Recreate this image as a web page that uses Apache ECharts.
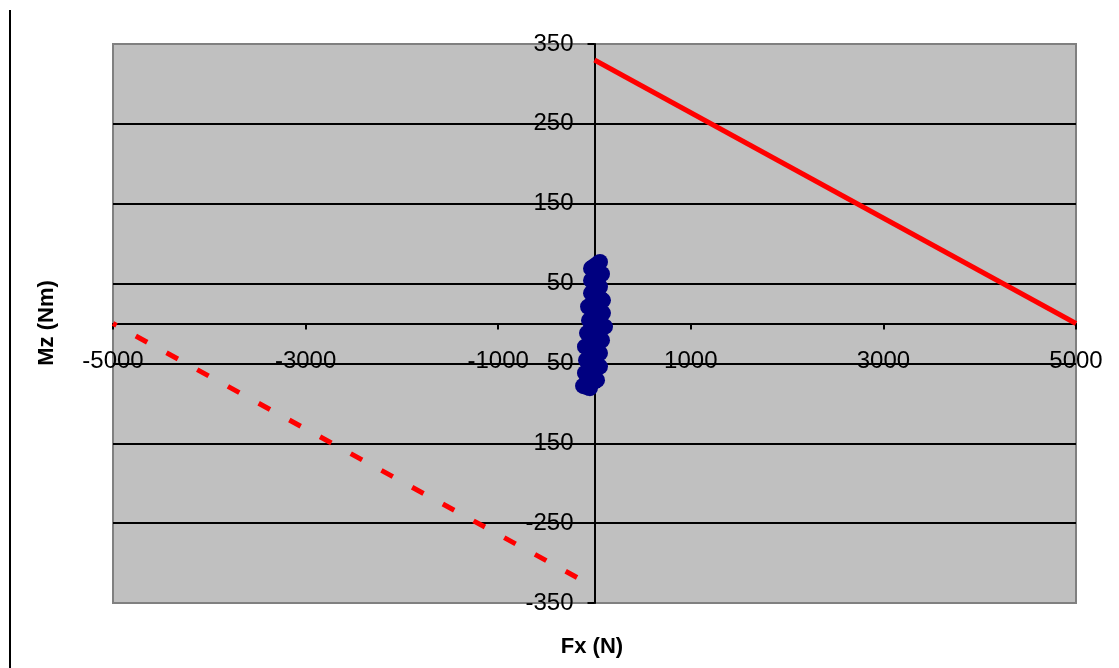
<!DOCTYPE html>
<html>
<head>
<meta charset="utf-8">
<script src="https://cdn.jsdelivr.net/npm/echarts@6/dist/echarts.min.js"></script>
<style>
html,body{margin:0;padding:0;background:#fff;}
#chart{width:1119px;height:668px;}
</style>
</head>
<body>
<div id="chart"></div>
<script>
// Axis settings
const xMin = -5000, xMax = 5000, xStep = 2000;
const yMin = -350, yMax = 350, yStep = 100;
const xTitle = 'Fx (N)';
const yTitle = 'Mz (Nm)';

// Measured (Fx, Mz) points – blue cluster
const measuredFx = [57, -36, 78, -36, 57, -36, 88, -67, 88, -57, 109, -78, 78, -99, 57, -88, 57, -99, 26, -119, -47];
const measuredMz = [77, 69, 62, 54, 46, 38, 29, 21, 13, 4, -4, -12, -21, -29, -37, -46, -54, -62, -71, -78, -81];

// Limit lines
const limitUpperFx = [0, 5000];
const limitUpperMz = [330, 0];
const limitLowerFx = [-5000, 0];
const limitLowerMz = [0, -330];

const zip = (a, b) => a.map((v, i) => [v, b[i]]);

const gridLeft = 113, gridRight = 43, gridTop = 44, gridBottom = 65;
const W = 1119, H = 668;
const gw = W - gridLeft - gridRight, gh = H - gridTop - gridBottom;
// offsets so the axes cross at zero (Excel style)
const yAxisOffset = -((0 - xMin) / (xMax - xMin)) * gw;
const xAxisOffset = -((0 - yMin) / (yMax - yMin)) * gh;

const chart = echarts.init(document.getElementById('chart'));
const font = 'Arial, "Liberation Sans", sans-serif';

chart.setOption({
  animation: false,
  backgroundColor: '#ffffff',
  grid: {
    left: gridLeft, right: gridRight, top: gridTop, bottom: gridBottom,
    show: true,
    backgroundColor: '#C0C0C0',
    borderColor: '#808080',
    borderWidth: 2
  },
  xAxis: {
    type: 'value',
    position: 'bottom',
    offset: xAxisOffset,
    min: xMin, max: xMax, interval: xStep,
    axisLine: { onZero: false, lineStyle: { color: '#000', width: 2 } },
    axisTick: { show: true, length: 6, lineStyle: { color: '#000', width: 2 } },
    axisLabel: { color: '#000', fontSize: 24, fontFamily: font, margin: 26, formatter: v => String(v) },
    splitLine: { show: false }
  },
  yAxis: {
    type: 'value',
    position: 'left',
    offset: yAxisOffset,
    min: yMin, max: yMax, interval: yStep,
    axisLine: { onZero: false, lineStyle: { color: '#000', width: 2 } },
    axisTick: { show: true, length: 7, lineStyle: { color: '#000', width: 2 } },
    axisLabel: { color: '#000', fontSize: 24, fontFamily: font, margin: 21, formatter: v => String(v) },
    splitLine: { show: true, showMinLine: false, showMaxLine: false, lineStyle: { color: '#000', width: 2 } }
  },
  graphic: [
    { type: 'line', shape: { x1: 10, y1: 10, x2: 10, y2: 668 }, style: { stroke: '#000', lineWidth: 2 } },
    { type: 'text', x: 47, y: 323, rotation: Math.PI / 2,
      style: { text: yTitle, font: 'bold 22px ' + font, fill: '#000', textAlign: 'center', textVerticalAlign: 'middle' } },
    { type: 'text', x: 592, y: 647,
      style: { text: xTitle, font: 'bold 22px ' + font, fill: '#000', textAlign: 'center', textVerticalAlign: 'middle' } }
  ],
  series: [
    {
      type: 'line',
      data: zip(measuredFx, measuredMz),
      symbol: 'circle', symbolSize: 16,
      itemStyle: { color: '#000080' },
      lineStyle: { color: '#000080', width: 16 },
      z: 3
    },
    {
      type: 'line',
      data: zip(limitUpperFx, limitUpperMz),
      symbol: 'none',
      lineStyle: { color: '#FF0000', width: 5 },
      z: 4
    },
    {
      type: 'line',
      data: zip(limitLowerFx, limitLowerMz),
      symbol: 'none',
      lineStyle: { color: '#FF0000', width: 5, type: [13, 22], dashOffset: 9 },
      z: 4
    }
  ]
});
</script>
</body>
</html>
